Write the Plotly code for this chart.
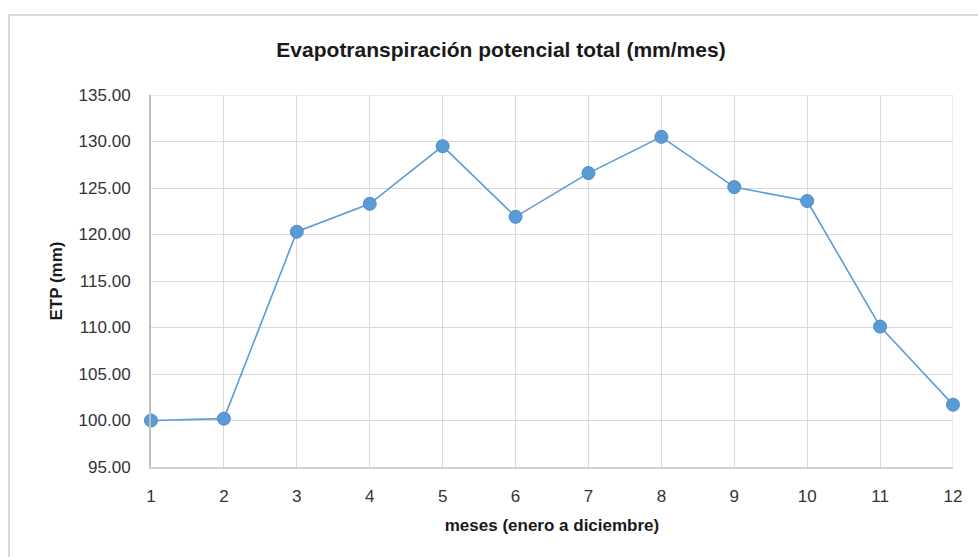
import plotly.graph_objects as go

# Monthly potential evapotranspiration (mm/month)
meses = [1, 2, 3, 4, 5, 6, 7, 8, 9, 10, 11, 12]
etp = [100.0, 100.2, 120.3, 123.3, 129.5, 121.9, 126.6, 130.5, 125.1, 123.6, 110.1, 101.7]

y_ticks = [95, 100, 105, 110, 115, 120, 125, 130, 135]
y_tick_text = [f"{v:.2f}" for v in y_ticks]

FONT = "Liberation Sans, Arial, sans-serif"
BLUE = "#5b9bd5"
GRID = "#d9d9d9"
TICK_COLOR = "#333333"

fig = go.Figure()
fig.add_trace(go.Scatter(
    x=meses,
    y=etp,
    mode="lines+markers",
    line=dict(color=BLUE, width=1.6),
    marker=dict(color=BLUE, size=13, line=dict(color="#4a8ccc", width=1)),
    cliponaxis=False,
    showlegend=False,
))

W, H = 978, 557
L, R, T, B = 151, 25, 95, 90

fig.update_layout(
    width=W,
    height=H,
    margin=dict(l=L, r=R, t=T, b=B),
    paper_bgcolor="white",
    plot_bgcolor="white",
    font=dict(family=FONT, color=TICK_COLOR),
    title=dict(
        text="<b>Evapotranspiración potencial total (mm/mes)</b>",
        font=dict(family=FONT, size=21, color="#1a1a1a"),
        x=501 / W,
        xanchor="center",
        y=1 - 50 / H,
        yanchor="middle",
    ),
    xaxis=dict(
        range=[1, 12],
        tickmode="array",
        tickvals=meses,
        ticktext=[str(m) for m in meses],
        tickfont=dict(size=17, color=TICK_COLOR),
        showgrid=True,
        gridcolor=GRID,
        gridwidth=1,
        zeroline=False,
        showline=True,
        linecolor="#d0d0d0",
        linewidth=2,
        ticks="",
        ticklabelstandoff=13,
        title=dict(
            text="<b>meses (enero a diciembre)</b>",
            font=dict(size=17, color="#1a1a1a"),
            standoff=14,
        ),
    ),
    yaxis=dict(
        range=[95, 135],
        tickmode="array",
        tickvals=y_ticks,
        ticktext=y_tick_text,
        tickfont=dict(size=17, color=TICK_COLOR),
        showgrid=True,
        gridcolor=GRID,
        gridwidth=1,
        zeroline=False,
        showline=True,
        linecolor="#bfbfbf",
        linewidth=2,
        ticks="",
        ticklabelstandoff=15,
        title=dict(
            text="<b>ETP (mm)</b>",
            font=dict(size=17, color="#1a1a1a"),
            standoff=12,
        ),
    ),
)

# Right and top plot-area edges (gridline colour)
fig.add_shape(type="line", xref="x", yref="paper", x0=12, x1=12, y0=0, y1=1,
              line=dict(color=GRID, width=1), layer="below")
fig.add_shape(type="line", xref="paper", yref="y", x0=0, x1=1, y0=135, y1=135,
              line=dict(color=GRID, width=1), layer="below")

# Outer chart frame (left and top edges visible)
pw, ph = W - L - R, H - T - B
fx0 = (9 - L) / pw
fy1 = (H - B - 15) / ph
fig.add_shape(type="rect", xref="paper", yref="paper",
              x0=fx0, x1=1.2, y0=-0.4, y1=fy1,
              line=dict(color="#d9d9d9", width=2), fillcolor="rgba(0,0,0,0)",
              layer="below")

fig.write_html("out.html")
